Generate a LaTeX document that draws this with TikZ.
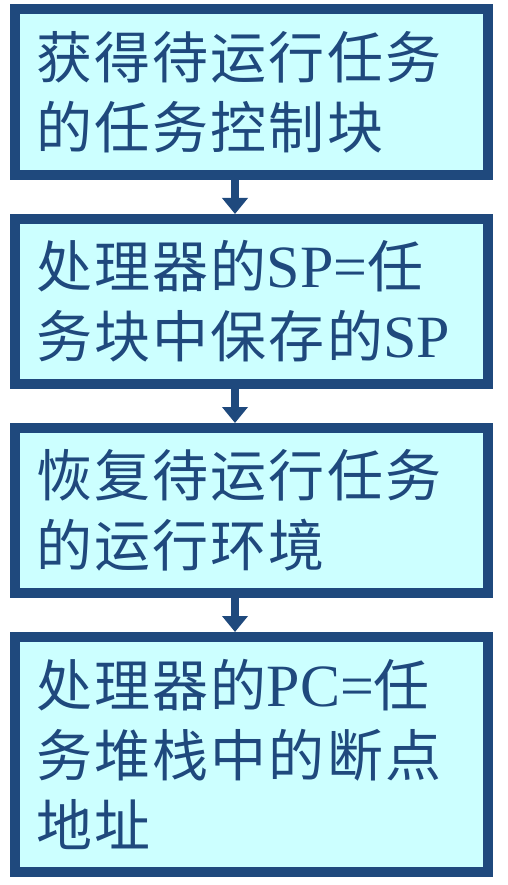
\documentclass[tikz,border=0pt]{standalone}
\usepackage{fontspec}
\setmainfont{Liberation Serif}
\newfontfamily\cjkfont[LetterSpace=4]{Noto Sans CJK SC}
\newfontfamily\latfont{Liberation Serif}
\usetikzlibrary{positioning,arrows.meta}
\definecolor{boxblue}{RGB}{31,73,125}
\definecolor{boxfill}{RGB}{204,255,255}
\tikzset{>={Triangle[width=25pt,length=16pt]}}
\newcommand{\lat}[1]{{\latfont\fontsize{60pt}{70pt}\selectfont #1}}

\begin{document}
\begin{tikzpicture}[x=1pt,y=1pt,node distance=34pt,
  box/.style={draw=boxblue,line width=10pt,fill=boxfill,text=boxblue,
    minimum width=473pt,text width=431pt,inner xsep=21pt,align=left,
    font=\cjkfont\fontsize{56pt}{70pt}\selectfont},
  flow/.style={->,draw=boxblue,fill=boxblue,line width=8pt}]
\useasboundingbox (0,0) rectangle (508,-885);
\node[box,minimum height=166pt] (A) at (251.5,-92) {获得待运行任务\\的任务控制块};
\node[box,minimum height=165pt,below=of A] (B) {处理器的\lat{SP=}任\\务块中保存的\lat{SP}};
\node[box,minimum height=165pt,below=of B] (C) {恢复待运行任务\\的运行环境};
\node[box,minimum height=235pt,below=of C] (D) {处理器的\lat{PC=}任\\务堆栈中的断点\\地址};
\draw[flow] ([xshift=-16.5pt]A.south) -- ([xshift=-16.5pt]B.north);
\draw[flow] ([xshift=-16.5pt]B.south) -- ([xshift=-16.5pt]C.north);
\draw[flow] ([xshift=-16.5pt]C.south) -- ([xshift=-16.5pt]D.north);
\end{tikzpicture}
\end{document}
